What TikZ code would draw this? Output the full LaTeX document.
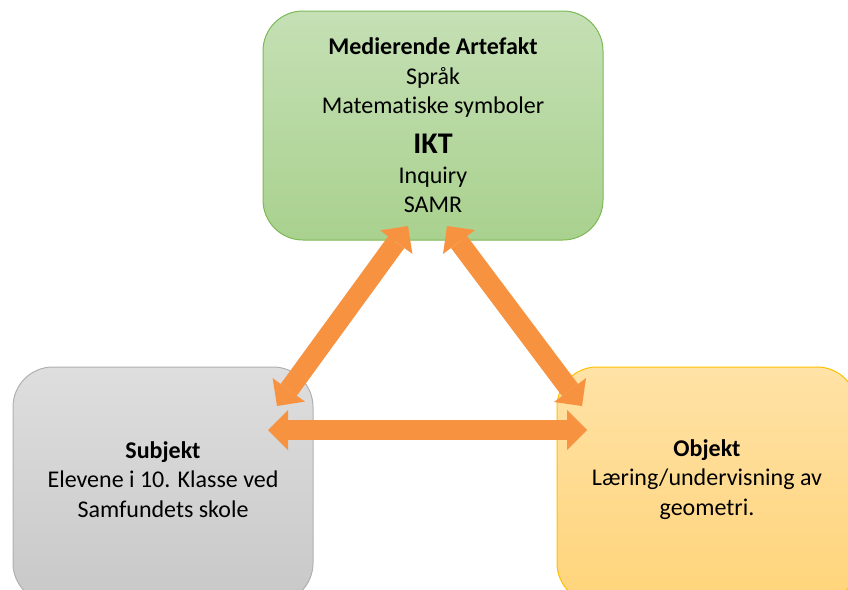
\documentclass[tikz,border=0pt]{standalone}
\usepackage{fontspec}
\setmainfont[Ligatures=NoCommon]{Carlito}
\usetikzlibrary{arrows.meta}

\definecolor{greenTop}{HTML}{C5E0B5}
\definecolor{greenBot}{HTML}{A9D18E}
\definecolor{greenLine}{HTML}{7DB956}
\definecolor{grayTop}{HTML}{DEDEDE}
\definecolor{grayBot}{HTML}{C8C8C8}
\definecolor{grayLine}{HTML}{B0B0B0}
\definecolor{goldTop}{HTML}{FFE2A6}
\definecolor{goldBot}{HTML}{FFD47A}
\definecolor{goldLine}{HTML}{FFC000}
\definecolor{linkOrange}{HTML}{F79340}

\tikzset{
  box/.style={rounded corners=40pt, line width=1pt, inner sep=0pt},
  label/.style={align=center, font=\fontsize{24}{29.5}\selectfont, inner sep=0pt},
  artbox/.style={box, draw=greenLine, top color=greenTop, bottom color=greenBot},
  subjbox/.style={box, draw=grayLine, top color=grayTop, bottom color=grayBot},
  objbox/.style={box, draw=goldLine, top color=goldTop, bottom color=goldBot},
  link/.style={draw=linkOrange, line width=20pt,
    {Triangle[length=20pt, width=40pt, line width=0pt]}-{Triangle[length=20pt, width=40pt, line width=0pt]}}
}

\begin{document}
\begin{tikzpicture}[x=1pt, y=-1pt]
\useasboundingbox (0,0) rectangle (848,589);
\clip (0,0) rectangle (848,589);

% the three corners of the activity triangle
\node[artbox, minimum width=340pt, minimum height=229pt] (art) at (433,125.5) {};
\node[subjbox, minimum width=300pt, minimum height=236pt] (subj) at (163,485) {};
\node[objbox, minimum width=300pt, minimum height=236pt] (obj) at (707,485) {};

\node[label] (arttext) at (art.center)
  {\textbf{Medierende Artefakt}\\Språk\\Matematiske symboler\\[10.5pt]
   {\fontsize{30}{36}\selectfont\bfseries IKT}\\Inquiry\\SAMR};
\node[label] (subjtext) at (163,479.5)
  {\textbf{Subjekt}\\Elevene i 10. Klasse ved\\Samfundets skole};
\node[label] (objtext) at (707,479.5)
  {\textbf{Objekt}\\Læring/undervisning av\\geometri.};

% arrow end points
\coordinate (artL) at (408,226);
\coordinate (artR) at (447,226);
\coordinate (subjT) at (277,406);
\coordinate (subjR) at (268,430);
\coordinate (objT) at (582,406);
\coordinate (objL) at (587,430);

\draw[link] (artL) -- (subjT);
\draw[link] (artR) -- (objT);
\draw[link] (subjR) -- (objL);
\end{tikzpicture}
\end{document}
